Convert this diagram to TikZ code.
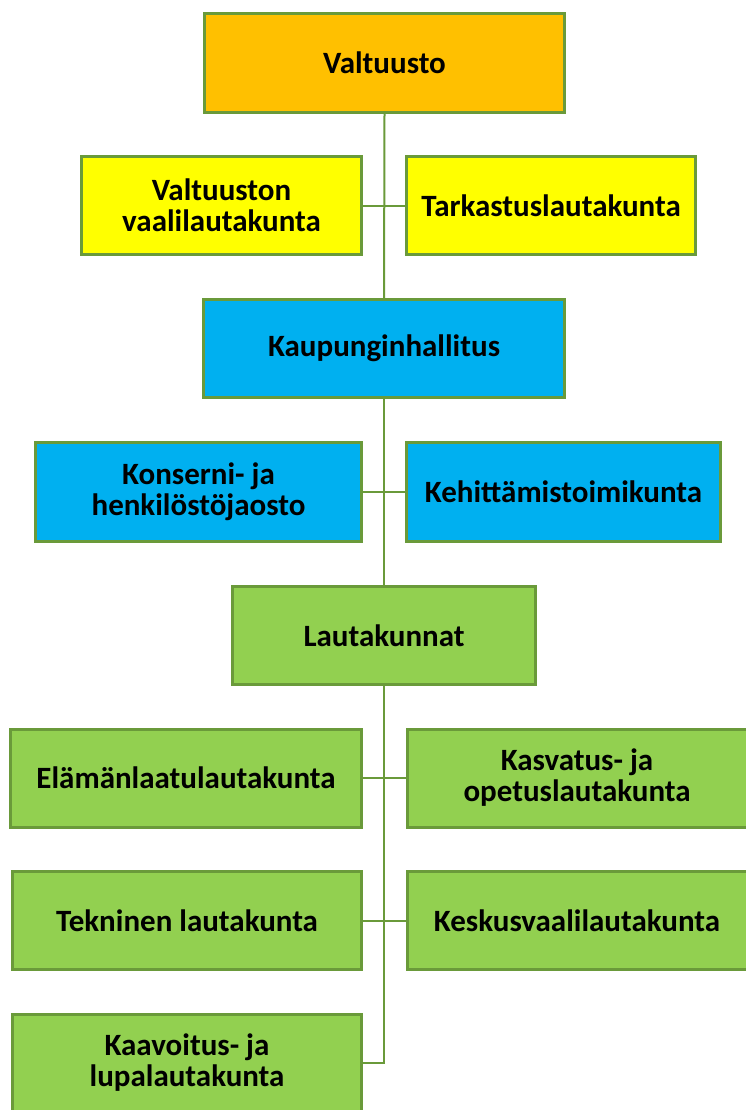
\documentclass[tikz,border=0pt]{standalone}
\usepackage{fontspec}
\setmainfont{Carlito}
\definecolor{bordergreen}{HTML}{6A9A3A}
\definecolor{orgfill}{HTML}{FFC000}
\definecolor{yelfill}{HTML}{FFFF00}
\definecolor{bluefill}{HTML}{00B0F0}
\definecolor{grnfill}{HTML}{92D050}
\begin{document}
\begin{tikzpicture}[x=1pt,y=-1pt,
  box/.style={draw=bordergreen, line width=3pt, font=\bfseries\fontsize{31}{31}\selectfont, align=center, inner sep=0pt, anchor=center},
  conn/.style={draw=bordergreen, line width=2pt}]
\useasboundingbox (0,0) rectangle (746,1110);
\node[box, fill=orgfill, minimum width=360pt, minimum height=99pt] (v) at (384.5,63) {Valtuusto};
\node[box, fill=yelfill, minimum width=280pt, minimum height=98pt] (vaali) at (221.5,205.5) {Valtuuston\\vaalilautakunta};
\node[box, fill=yelfill, minimum width=289pt, minimum height=98pt] (tark) at (551,205.5) {Tarkastuslautakunta};
\node[box, fill=bluefill, minimum width=361pt, minimum height=98pt] (kh) at (384,348.5) {Kaupunginhallitus};
\node[box, fill=bluefill, minimum width=326pt, minimum height=99pt] (kons) at (198.5,492) {Konserni- ja\\henkilöstöjaosto};
\node[box, fill=bluefill, minimum width=314pt, minimum height=99pt] (keh) at (563.5,492) {Kehittämistoimikunta};
\node[box, fill=grnfill, minimum width=303pt, minimum height=98pt] (laut) at (384,635.5) {Lautakunnat};
\node[box, fill=grnfill, minimum width=351pt, minimum height=98pt] (elam) at (186,778) {Elämänlaatulautakunta};
\node[box, fill=grnfill, minimum width=340pt, minimum height=98pt] (kasv) at (577,778) {Kasvatus- ja\\opetuslautakunta};
\node[box, fill=grnfill, minimum width=349pt, minimum height=98pt] (tek) at (187,920.5) {Tekninen lautakunta};
\node[box, fill=grnfill, minimum width=340pt, minimum height=98pt] (kesk) at (577,920.5) {Keskusvaalilautakunta};
\node[box, fill=grnfill, minimum width=349pt, minimum height=98pt] (kaav) at (187,1063) {Kaavoitus- ja\\lupalautakunta};
\coordinate (tend) at (384,1063);
\draw[conn] (v.south) -- (kh.north);
\draw[conn] (kh.south) -- (laut.north);
\draw[conn] (laut.south) -- (tend) -- (kaav.east);
\draw[conn] (vaali.east) -- (tark.west);
\draw[conn] (kons.east) -- (keh.west);
\draw[conn] (elam.east) -- (kasv.west);
\draw[conn] (tek.east) -- (kesk.west);
\end{tikzpicture}
\end{document}
